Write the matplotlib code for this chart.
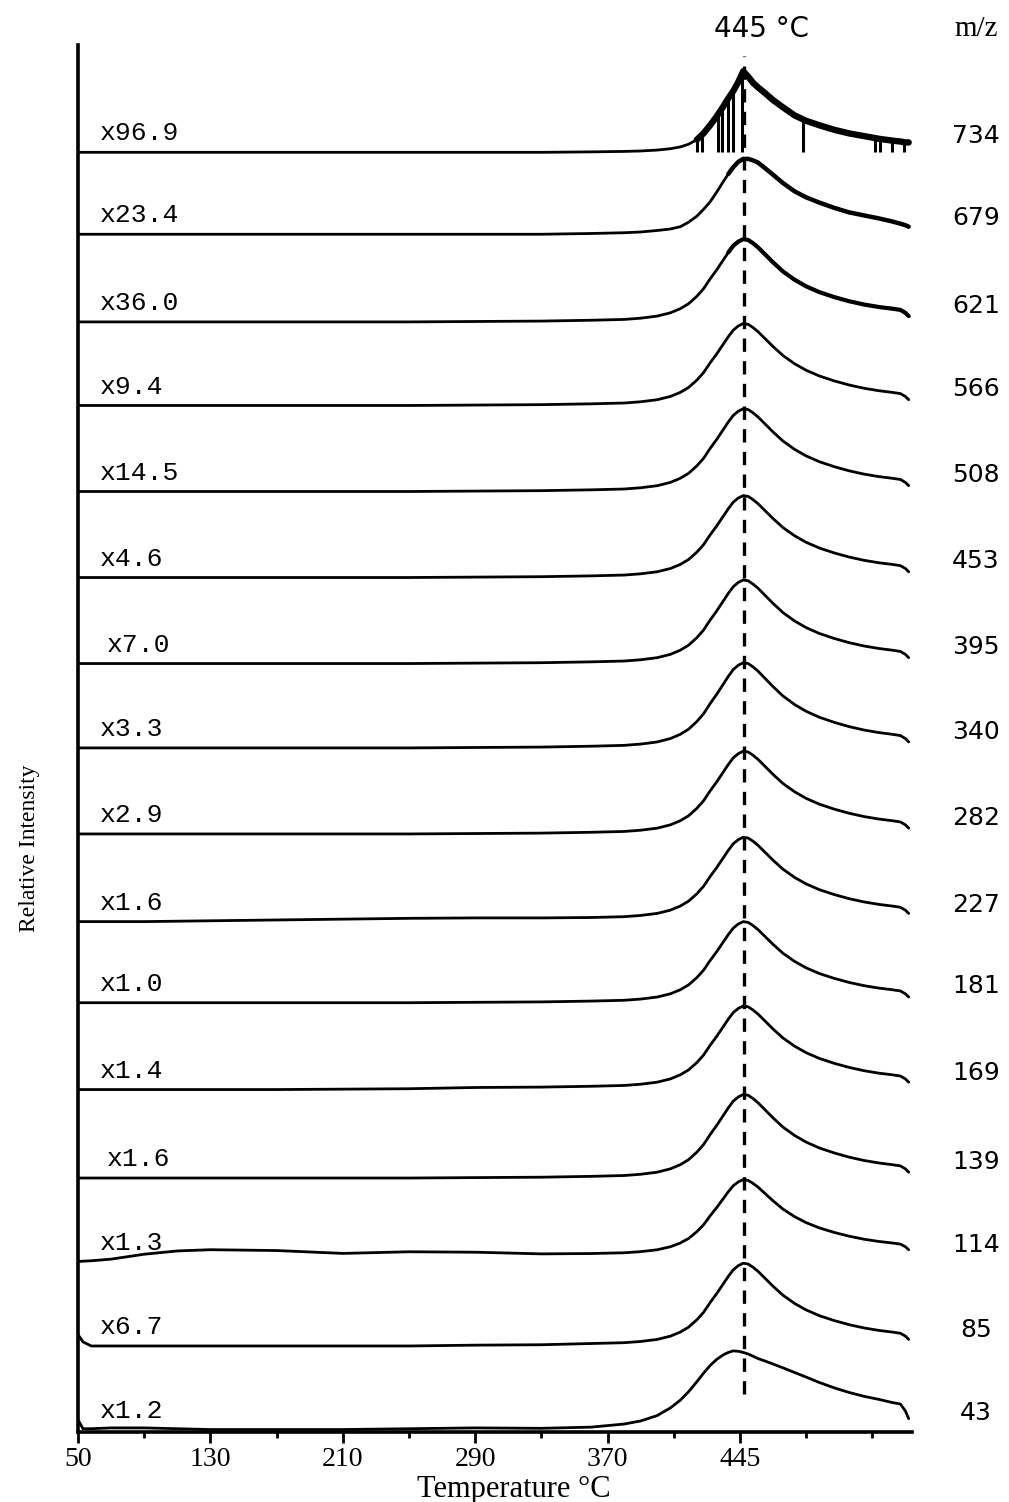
import matplotlib
matplotlib.use('Agg')
import matplotlib.pyplot as plt
import numpy as np

# Temperaturas (eixo x) em que as curvas foram lidas
temps_base = [50, 53, 58, 70, 90, 110, 130, 170, 210, 250, 290, 330, 360]
temps_pico = [380, 390, 400, 408, 414, 419, 424, 428, 432, 436, 440, 443, 446, 449, 452, 455,
              458, 461, 465, 470, 476, 483, 490, 498, 507, 516, 525, 534, 542, 547, 550, 552]
temps = temps_base + temps_pico
n_pico = len(temps_pico)

# Perfis dos picos (normalizados)
perfil_tipico = [0, 0, 0, 0, 0, 0, 0, 0, 0, 0, 0.005, 0.01, 0.02,
                 0.03, 0.045, 0.07, 0.11, 0.16, 0.22, 0.31, 0.40, 0.52, 0.63, 0.75, 0.84, 0.92, 0.97, 1.0, 0.99,
                 0.95, 0.9, 0.82, 0.72, 0.61, 0.51, 0.43, 0.36, 0.30, 0.25, 0.21, 0.18, 0.16, 0.145, 0.11, 0.07]
perfil_43 = [0, 0, 0, 0, 0, 0, 0, 0, 0, 0, 0, 0, 0.01,
             0.05, 0.09, 0.16, 0.26, 0.36, 0.47, 0.6, 0.71, 0.81, 0.89, 0.95, 0.98, 1.0, 0.995, 0.98, 0.96,
             0.93, 0.9, 0.87, 0.83, 0.78, 0.72, 0.66, 0.59, 0.52, 0.46, 0.41, 0.37, 0.33, 0.31, 0.22, 0.12]
perfil_679 = [0, 0, 0, 0, 0, 0, 0, 0, 0, 0, 0, 0, 0.01,
              0.02, 0.03, 0.05, 0.07, 0.1, 0.16, 0.24, 0.33, 0.43, 0.56, 0.7, 0.8, 0.89, 0.96, 1.0, 1.0,
              0.98, 0.95, 0.88, 0.79, 0.68, 0.57, 0.49, 0.42, 0.35, 0.29, 0.25, 0.21, 0.17, 0.14, 0.12, 0.1]
perfil_734 = [0, 0, 0, 0, 0, 0, 0, 0, 0, 0, 0, 0, 0.005,
              0.01, 0.015, 0.025, 0.04, 0.06, 0.09, 0.14, 0.21, 0.3, 0.4, 0.51, 0.6, 0.68, 0.78, 0.9, 0.84,
              0.77, 0.72, 0.66, 0.58, 0.5, 0.41, 0.35, 0.3, 0.25, 0.21, 0.18, 0.15, 0.13, 0.12, 0.11, 0.11]

# Linha de base (fundo) das curvas que nao sao planas
fundo_43 = [0.12, 0.01, 0.01, 0.02, 0.02, 0.01, 0.0, 0.0, 0.0, 0.01, 0.02, 0.015, 0.02] + [0.02] * n_pico
fundo_85 = [0.14, 0.05, 0.0, 0.0, 0.0, 0.0, 0.0, 0.0, 0.0, 0.0, 0.005, 0.005, 0.01] + [0.01] * n_pico
fundo_114 = [0, 0.005, 0.01, 0.03, 0.09, 0.13, 0.145, 0.135, 0.1, 0.12, 0.11, 0.085, 0.08] + [0.08] * n_pico
fundo_169 = [0, 0, 0, 0, 0, 0, 0, 0, 0.005, 0.01, 0.02, 0.02, 0.02] + [0.02] * n_pico
fundo_227 = [0, 0, 0, 0, 0, 0.005, 0.01, 0.02, 0.03, 0.04, 0.04, 0.035, 0.03] + [0.03] * n_pico
fundo_zero = [0] * len(temps)

# m/z, fator de escala, deslocamento vertical e altura de cada curva (de baixo para cima)
mz = ['43', '85', '114', '139', '169', '181', '227', '282', '340', '395', '453', '508', '566', '621', '679', '734']
fatores = ['x1.2', 'x6.7', 'x1.3', 'x1.6', 'x1.4', 'x1.0', 'x1.6', 'x2.9', 'x3.3', 'x7.0',
           'x4.6', 'x14.5', 'x9.4', 'x36.0', 'x23.4', 'x96.9']
deslocamentos = [0, 1.02, 2.05, 3.07, 4.15, 5.21, 6.2, 7.27, 8.32, 9.35, 10.4, 11.45, 12.5, 13.52, 14.59, 15.59]
amplitudes = [0.94, 1.0, 0.92, 1.02, 1.0, 0.99, 1.0, 1.01, 1.04, 1.02, 1.0, 1.01, 1.0, 1.01, 0.92, 1.1]
perfis = [perfil_43] + [perfil_tipico] * 13 + [perfil_679, perfil_734]
fundos = [fundo_43, fundo_85, fundo_114, fundo_zero, fundo_169, fundo_zero, fundo_227] + [fundo_zero] * 9
# curvas ruidosas: espessura maior a partir de uma temperatura
ruido_inicio = {'621': 443, '679': 443, '734': 422}
ruido_esp = {'621': 3.0, '679': 3.2, '734': 4.6}

# Quedas (spikes) do sinal m/z 734
quedas_t = [424, 427, 437, 439, 443, 446, 451, 488, 531.5, 534.5, 542, 549]
quedas_topo = [0.14, 0.17, 0.4, 0.47, 0.6, 0.68, 0.9, 0.35, 0.17, 0.17, 0.14, 0.12]

serif = 'Liberation Serif'
mono = 'Liberation Mono'
sans = 'DejaVu Sans'

fig = plt.figure(figsize=(10.09, 15.02), dpi=100)
ax = fig.add_axes([78 / 1009, 70 / 1502, 834 / 1009, 1387 / 1502])

t = np.array(temps)
for i in range(len(mz)):
    y = deslocamentos[i] + amplitudes[i] * np.array(perfis[i]) + np.array(fundos[i])
    ax.plot(t, y, color='black', lw=2.0, solid_joinstyle='round', solid_capstyle='round')
    if mz[i] in ruido_inicio:
        m = t >= ruido_inicio[mz[i]]
        ax.plot(t[m], y[m], color='black', lw=ruido_esp[mz[i]], solid_joinstyle='round',
                solid_capstyle='round')
    lx = 67.5 if mz[i] in ('395', '139') else 63.3
    ax.text(lx, deslocamentos[i] + 0.23, fatores[i], fontsize=19, family=mono,
            ha='left', va='center')
    ax.text(592.6, deslocamentos[i] + 0.2, mz[i], fontsize=18, family=sans,
            ha='center', va='center', clip_on=False)

ax.vlines(quedas_t, deslocamentos[15], deslocamentos[15] + np.array(quedas_topo) * amplitudes[15],
          color='black', lw=2.2)

# Linha tracejada em 445 C
ax.plot([452.4, 452.4], [0.43, 16.77], color='black', lw=2.4, linestyle=(0, (4, 2.8)))
ax.text(463.3, 17.1, '445 \u00b0C', fontsize=20, family=sans, ha='center', va='center', clip_on=False)
ax.text(592.6, 17.1, 'm/z', fontsize=21, family=serif, ha='center', va='center', clip_on=False)

ax.set_xlim(50, 554)
ax.set_ylim(-0.03, 16.9)
ax.spines['top'].set_visible(False)
ax.spines['right'].set_visible(False)
ax.spines['left'].set_linewidth(2.6)
ax.spines['bottom'].set_linewidth(2.6)
ax.set_yticks([])
ax.set_xticks([50, 130, 210, 290, 370, 450])
ax.set_xticklabels(['50', '130', '210', '290', '370', '445'], family=serif, fontsize=20)
ax.set_xticks([90, 170, 250, 330, 410, 490, 530], minor=True)
ax.tick_params(axis='x', which='major', length=8, width=2, direction='out', pad=3)
ax.tick_params(axis='x', which='minor', length=4, width=2, direction='out')

fig.text(30 / 1009, 1 - 848 / 1502, 'Relative Intensity', rotation=90, family=serif,
         fontsize=17, ha='center', va='center')
fig.text(514 / 1009, 1 - 1489 / 1502, 'Temperature \u00b0C', family=serif,
         fontsize=22, ha='center', va='center')

fig.savefig('out.png', dpi=100)
